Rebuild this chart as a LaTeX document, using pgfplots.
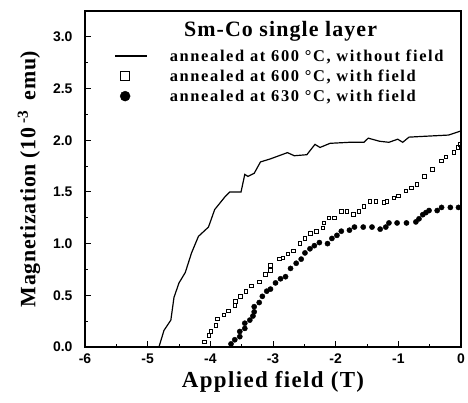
\documentclass[border=0pt]{standalone}
\usepackage{fontspec}
\setmainfont{Liberation Serif}
\setsansfont{Liberation Sans}
\usepackage{pgfplots}
\pgfplotsset{compat=1.18}

\pgfplotsset{
    longline legend/.style={legend image code/.code={%
        \draw[##1] (0bp,0bp) -- (32bp,0bp);\path (54bp,0bp);}},
    mark legend/.style={legend image code/.code={%
        \path (0bp,0bp) (54bp,0bp);\draw[##1] plot coordinates {(10bp,0bp)};}},
}

% 600 C, annealed without field (solid line)
\pgfplotstableread{
x y
-4.82 0.00
-4.74 0.16
-4.63 0.26
-4.58 0.48
-4.50 0.62
-4.40 0.72
-4.30 0.91
-4.19 1.07
-4.03 1.16
-3.93 1.33
-3.77 1.45
-3.69 1.50
-3.51 1.50
-3.45 1.67
-3.40 1.65
-3.30 1.68
-3.20 1.79
-3.04 1.82
-2.77 1.88
-2.66 1.85
-2.46 1.86
-2.33 1.96
-2.25 1.93
-2.09 1.97
-1.78 1.98
-1.55 1.98
-1.48 2.02
-1.30 1.99
-1.15 1.98
-1.01 2.01
-0.93 1.98
-0.83 2.03
-0.52 2.04
-0.20 2.05
-0.05 2.08
0.00 2.09
}\withoutfield

% 600 C, annealed with field (open squares)
\pgfplotstableread{
x y
-4.09 0.05
-4.02 0.11
-3.99 0.15
-3.91 0.21
-3.89 0.27
-3.78 0.31
-3.71 0.35
-3.61 0.40
-3.60 0.44
-3.52 0.49
-3.43 0.54
-3.34 0.59
-3.22 0.63
-3.12 0.70
-3.04 0.74
-3.04 0.79
-2.90 0.85
-2.84 0.86
-2.76 0.90
-2.67 0.93
-2.57 1.00
-2.49 1.05
-2.40 1.10
-2.31 1.12
-2.20 1.15
-2.19 1.20
-2.11 1.25
-2.02 1.25
-1.91 1.31
-1.82 1.31
-1.72 1.28
-1.63 1.31
-1.55 1.36
-1.45 1.41
-1.36 1.41
-1.23 1.40
-1.18 1.41
-1.07 1.44
-1.00 1.46
-0.88 1.51
-0.79 1.54
-0.70 1.57
-0.58 1.65
-0.46 1.72
-0.31 1.80
-0.24 1.84
-0.11 1.88
-0.05 1.93
-0.02 1.96
}\withfieldsix

% 630 C, annealed with field (filled circles)
\pgfplotstableread{
x y
-3.67 0.03
-3.61 0.07
-3.53 0.10
-3.53 0.15
-3.45 0.18
-3.45 0.23
-3.37 0.26
-3.32 0.30
-3.30 0.34
-3.30 0.39
-3.22 0.43
-3.17 0.49
-3.10 0.54
-3.04 0.56
-2.96 0.62
-2.88 0.66
-2.80 0.68
-2.72 0.76
-2.63 0.81
-2.55 0.85
-2.49 0.91
-2.41 0.95
-2.34 0.98
-2.26 1.01
-2.13 1.00
-2.06 1.05
-1.98 1.08
-1.91 1.12
-1.78 1.13
-1.70 1.16
-1.56 1.16
-1.42 1.16
-1.29 1.14
-1.20 1.16
-1.15 1.20
-1.02 1.20
-0.87 1.20
-0.72 1.21
-0.67 1.24
-0.61 1.28
-0.56 1.30
-0.51 1.32
-0.38 1.32
-0.31 1.35
-0.17 1.35
-0.04 1.35
}\withfieldsixthirty

\begin{document}
\begin{tikzpicture}
\begin{axis}[
    name=ax,
    scale only axis,
    width=376bp, height=336bp,
    xmin=-6, xmax=0, ymin=0, ymax=3.25,
    xtick={-6,-5,...,0},
    ytick={0,0.5,...,3.0},
    minor x tick num=1,
    minor y tick num=1,
    tick pos=left,
    tick align=inside,
    major tick length=6bp,
    minor tick length=3.5bp,
    axis line style={line width=1.3pt},
    every tick/.style={black, line width=1pt},
    /pgf/number format/assume math mode=true,
    yticklabel style={/pgf/number format/fixed, /pgf/number format/zerofill, /pgf/number format/precision=1,
        font=\sffamily\bfseries\fontsize{14}{14}\selectfont, xshift=-9bp},
    xticklabel style={font=\sffamily\bfseries\fontsize{14}{14}\selectfont, yshift=-3bp},
    xlabel={\addfontfeatures{LetterSpace=6}Applied field (T)},
    ylabel={\addfontfeatures{LetterSpace=3}Magnetization (10\,\textsuperscript{-3}\, emu)},
    xlabel style={font=\bfseries\fontsize{23}{23}\selectfont, yshift=-1bp},
    ylabel style={font=\bfseries\fontsize{22}{22}\selectfont, yshift=6bp},
    legend style={at={(0.07,0.895)}, anchor=north west, draw=none, fill=none,
        font=\bfseries\fontsize{16.5}{16.5}\selectfont\addfontfeatures{LetterSpace=10},
        row sep=5bp, cells={anchor=west},
        nodes={inner xsep=0pt, inner ysep=1bp}, column sep=0bp},
    legend cell align=left,
]
\addlegendimage{black, line width=1.3pt, mark=none, longline legend}
\addlegendentry{annealed at 600 °C, without field}
\addlegendimage{black, only marks, mark=square, mark size=4.5bp, line width=1pt, mark legend}
\addlegendentry{annealed at 600 °C, with field}
\addlegendimage{black, only marks, mark=*, mark size=5bp, mark legend}
\addlegendentry{annealed at 630 °C, with field}

\addplot[black, line width=1.2pt, mark=none, forget plot] table[x=x, y=y] {\withoutfield};
\addplot[black, only marks, mark=square, mark size=1.8bp, line width=0.9pt, forget plot] table[x=x, y=y] {\withfieldsix};
\addplot[black, only marks, mark=*, mark size=2.6bp, forget plot] table[x=x, y=y] {\withfieldsixthirty};

\node[font=\bfseries\fontsize{22}{22}\selectfont\addfontfeatures{LetterSpace=5}] at (rel axis cs:0.52,0.94) {Sm-Co single layer};
\end{axis}
\pgfresetboundingbox
\path[use as bounding box] ([xshift=-85bp, yshift=-56bp]ax.south west) rectangle ([xshift=7bp, yshift=11bp]ax.north east);
\end{tikzpicture}
\end{document}
